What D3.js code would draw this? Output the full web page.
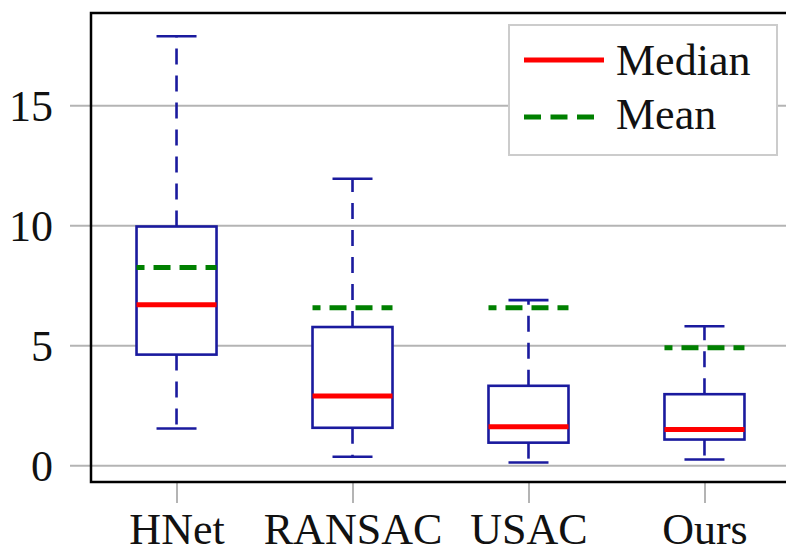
<!DOCTYPE html>
<html>
<head>
<meta charset="utf-8">
<script src="https://cdn.jsdelivr.net/npm/d3@7"></script>
<style>
  html, body { margin: 0; padding: 0; background: #fff; }
  svg { display: block; }
</style>
</head>
<body>
<svg id="chart" width="786" height="554"></svg>
<script>
// ---- data ----
const categories = ["HNet", "RANSAC", "USAC", "Ours"];
const whiskerLow  = [1.53, 0.35, 0.11, 0.24];
const q1          = [4.61, 1.56, 0.94, 1.07];
const medians     = [6.69, 2.89, 1.60, 1.49];
const q3          = [9.95, 5.76, 3.31, 2.96];
const whiskerHigh = [17.88, 11.94, 6.88, 5.79];
const means       = [8.24, 6.56, 6.56, 4.90];
const yTicks      = [0, 5, 10, 15];
const legendLabels = ["Median", "Mean"];

const rows = categories.map((c, i) => ({
  cat: c, lo: whiskerLow[i], q1: q1[i], med: medians[i], q3: q3[i], hi: whiskerHigh[i], mean: means[i]
}));

const svg = d3.select("#chart");
const frame = { left: 91, right: 790, top: 13, bottom: 482 };

const x = d3.scalePoint().domain(categories).range([frame.left, frame.right]).padding(0.486);
const y = d3.scaleLinear().domain([-0.7, 18.85]).range([frame.bottom, frame.top]);

const boxW = 80, capW = 40;
const blue = "#1a1a9e", red = "#ff0000", green = "#008000", grid = "#b4b4b4";
const font = "'Liberation Serif', 'Times New Roman', serif";

// grid lines + y ticks
const yAxis = d3.axisLeft(y).tickValues(yTicks).tickSize(-(frame.right - frame.left)).tickFormat(d3.format("d"));
const gy = svg.append("g").attr("transform", `translate(${frame.left},0)`).call(yAxis);
gy.select(".domain").remove();
gy.selectAll(".tick line").attr("x1", -21).attr("stroke", grid).attr("stroke-width", 2);
gy.selectAll(".tick text")
  .attr("x", -38).attr("dy", "0.34em")
  .attr("font-family", font).attr("font-size", 44).attr("fill", "#111")
  .attr("text-anchor", "end");

// x ticks
const xAxis = d3.axisBottom(x).tickSize(21).tickSizeOuter(0);
const gx = svg.append("g").attr("transform", `translate(0,${frame.bottom})`).call(xAxis);
gx.select(".domain").remove();
gx.selectAll(".tick line").attr("stroke", grid).attr("stroke-width", 2);
gx.selectAll(".tick text")
  .attr("y", 62).attr("dy", 0)
  .attr("font-family", font).attr("font-size", 44).attr("fill", "#111");

// boxes
const g = svg.append("g");
const b = g.selectAll("g.box").data(rows).join("g").attr("class", "box");

// whiskers (dashed, starting at the box)
b.append("line")
  .attr("x1", d => x(d.cat)).attr("x2", d => x(d.cat))
  .attr("y1", d => y(d.q3)).attr("y2", d => y(d.hi))
  .attr("stroke", blue).attr("stroke-width", 2.6).attr("stroke-dasharray", "16,11");
b.append("line")
  .attr("x1", d => x(d.cat)).attr("x2", d => x(d.cat))
  .attr("y1", d => y(d.q1)).attr("y2", d => y(d.lo))
  .attr("stroke", blue).attr("stroke-width", 2.6).attr("stroke-dasharray", "16,11");
// caps
["hi", "lo"].forEach(k => {
  b.append("line")
    .attr("x1", d => x(d.cat) - capW / 2).attr("x2", d => x(d.cat) + capW / 2)
    .attr("y1", d => y(d[k])).attr("y2", d => y(d[k]))
    .attr("stroke", blue).attr("stroke-width", 2.6);
});
// box
b.append("rect")
  .attr("x", d => x(d.cat) - boxW / 2).attr("width", boxW)
  .attr("y", d => y(d.q3)).attr("height", d => y(d.q1) - y(d.q3))
  .attr("fill", "#fff").attr("stroke", blue).attr("stroke-width", 2.6);
// median
b.append("line")
  .attr("x1", d => x(d.cat) - boxW / 2).attr("x2", d => x(d.cat) + boxW / 2)
  .attr("y1", d => y(d.med)).attr("y2", d => y(d.med))
  .attr("stroke", red).attr("stroke-width", 5);
// mean
b.append("line")
  .attr("x1", d => x(d.cat) - boxW / 2).attr("x2", d => x(d.cat) + boxW / 2)
  .attr("y1", d => y(d.mean)).attr("y2", d => y(d.mean))
  .attr("stroke", green).attr("stroke-width", 5)
  .attr("stroke-dasharray", "17,9").attr("stroke-dashoffset", 9);

// frame
svg.append("path")
  .attr("d", `M${frame.right + 10},${frame.top}H${frame.left}V${frame.bottom}H${frame.right + 10}`)
  .attr("fill", "none").attr("stroke", "#000").attr("stroke-width", 2.5);

// legend
const lg = svg.append("g");
lg.append("rect").attr("x", 509).attr("y", 25).attr("width", 268).attr("height", 130)
  .attr("fill", "#fff").attr("stroke", "#cccccc").attr("stroke-width", 2);
const legendStyles = [
  { color: red, dash: null, len: 80, ly: 60, ty: 75 },
  { color: green, dash: "17,9.5", len: 72, ly: 117, ty: 129 }
];
legendLabels.forEach((lab, i) => {
  const s = legendStyles[i];
  lg.append("line").attr("x1", 524).attr("x2", 524 + s.len)
    .attr("y1", s.ly).attr("y2", s.ly)
    .attr("stroke", s.color).attr("stroke-width", 5)
    .attr("stroke-dasharray", s.dash);
  lg.append("text").attr("x", 616).attr("y", s.ty)
    .attr("font-family", font).attr("font-size", 44).attr("fill", "#111")
    .text(lab);
});
</script>
</body>
</html>
